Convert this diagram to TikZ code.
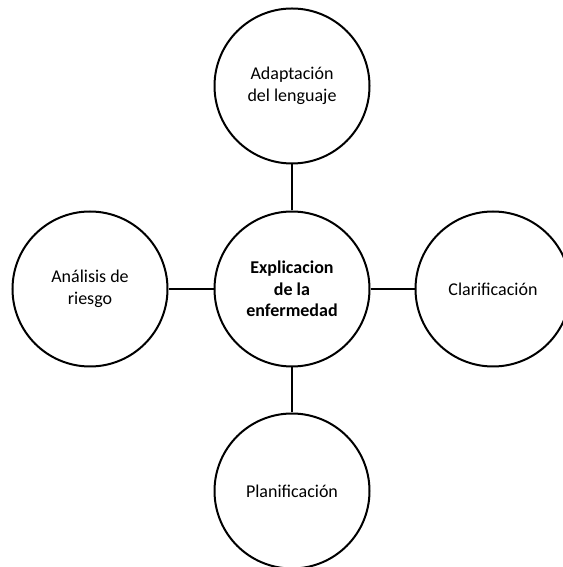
\documentclass[tikz,border=0pt]{standalone}
\usepackage{fontspec}
\setmainfont{Carlito}
\usetikzlibrary{arrows,shapes}
\tikzstyle{vertex}=[circle,draw=black,line width=2pt,fill=white,minimum size=155pt,inner sep=0pt,align=center,font=\fontsize{18}{21.5}\selectfont]
\tikzstyle{edge} = [draw,line width=2pt,-]
\begin{document}
\begin{tikzpicture}[x=1pt,y=1pt]
    \useasboundingbox (0,0) rectangle (562,567);
    % Center node first
    \node[vertex,font=\fontsize{18}{21.5}\selectfont\bfseries] (expl) at (292,278) {Explicacion\\de la\\enfermedad};

    % Then the four around it
    \foreach \pos/\name/\txt in {{(292,481)/adapt/{Adaptación\\del lenguaje}}, {(493,278)/clar/{Clarificación}}, {(292,76)/plan/{Planificación}}, {(90,278)/anal/{Análisis de\\riesgo}}}
        \node[vertex] (\name) at \pos {\txt};

    % Connect them to the center
    \foreach \dest in {adapt, clar, plan, anal}
        \path[edge] (expl) -- (\dest) ;
\end{tikzpicture}
\end{document}
